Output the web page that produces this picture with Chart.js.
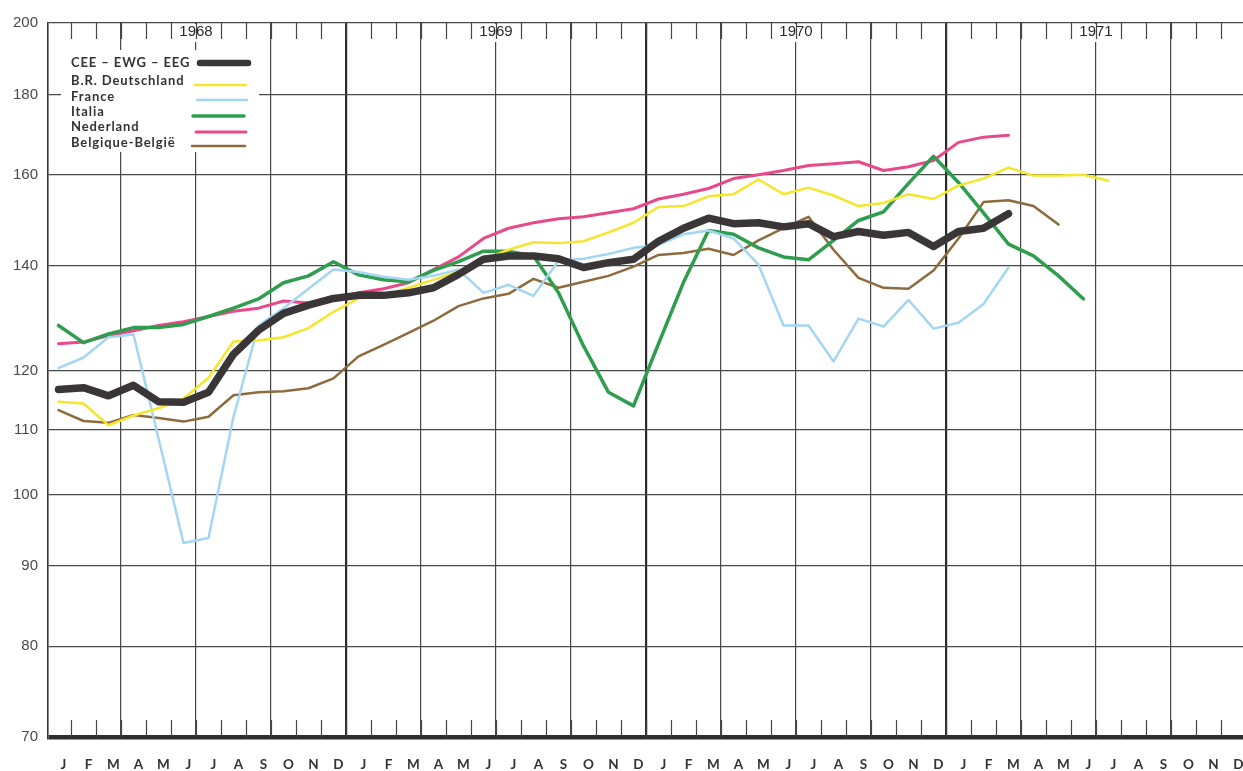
<!DOCTYPE html>
<html>
<head>
<meta charset="utf-8">
<script src="https://cdn.jsdelivr.net/npm/chart.js@4/dist/chart.umd.min.js"></script>
<style>
  html, body { margin: 0; padding: 0; background: #fff; overflow: hidden; }
</style>
</head>
<body>
<canvas id="indexChart" width="1243" height="771"></canvas>
<script>
// months Jan 1968 .. Dec 1971
var months = ['J', 'F', 'M', 'A', 'M', 'J', 'J', 'A', 'S', 'O', 'N', 'D'];
var years = ['1968', '1969', '1970', '1971'];
var yTicks = [70, 80, 90, 100, 110, 120, 140, 160, 180, 200];

var seriesNames = ['CEE \u2013 EWG \u2013 EEG', 'B.R. Deutschland', 'France', 'Italia', 'Nederland', 'Belgique-Belgi\u00eb'];

var cee = [116.7, 117.0, 115.6, 117.4, 114.6, 114.5, 116.2, 122.9, 127.3, 130.5, 132.1, 133.4,
           134.0, 134.0, 134.5, 135.5, 138.2, 141.3, 142.0, 142.0, 141.4, 139.6, 140.6, 141.3,
           145.1, 147.9, 150.1, 148.9, 149.1, 148.2, 148.9, 146.1, 147.2, 146.4, 147.0, 144.0,
           147.2, 147.9, 151.1];
var deutschland = [114.6, 114.3, 110.7, 112.3, 113.5, 115.1, 118.7, 125.2, 125.4, 126.0, 127.7, 130.8,
                   133.4, 134.0, 135.5, 137.1, 138.8, 141.2, 143.3, 144.9, 144.7, 145.1, 147.0, 149.1,
                   152.6, 152.8, 155.0, 155.5, 158.9, 155.5, 157.0, 155.2, 152.8, 153.5, 155.5, 154.4,
                   157.5, 159.1, 161.7, 159.8, 159.8, 160.0, 158.6];
var france = [120.4, 122.3, 126.0, 126.5, 108.6, 93.1, 93.8, 112.1, 128.2, 131.5, 135.3, 139.2,
              138.7, 137.7, 137.1, 137.9, 139.2, 134.5, 136.1, 133.9, 141.0, 141.4, 142.4, 143.7,
              144.3, 146.6, 147.4, 145.7, 140.2, 128.2, 128.2, 121.6, 129.5, 128.0, 133.1, 127.6,
              128.7, 132.3, 139.6];
var italia = [128.2, 125.0, 126.6, 127.8, 127.8, 128.4, 129.9, 131.5, 133.3, 136.5, 137.9, 140.8,
              138.1, 137.1, 136.7, 139.0, 140.8, 143.0, 143.0, 142.0, 134.5, 124.4, 116.2, 113.9,
              124.8, 136.6, 147.4, 146.6, 143.7, 141.8, 141.2, 145.3, 149.6, 151.5, 158.0, 164.4,
              158.2, 151.3, 144.5, 142.0, 137.9, 133.3];
var nederland = [124.8, 125.1, 126.3, 127.2, 128.2, 128.9, 129.9, 130.9, 131.5, 132.9, 132.5, 133.4,
                 134.5, 135.3, 136.5, 139.2, 141.8, 145.7, 147.9, 149.1, 150.0, 150.4, 151.3, 152.2,
                 154.4, 155.5, 156.8, 159.1, 160.0, 161.0, 162.2, 162.6, 163.1, 161.0, 161.9, 163.4,
                 167.8, 169.1, 169.6];
var belgique = [113.2, 111.4, 111.1, 112.4, 111.9, 111.3, 112.1, 115.7, 116.2, 116.4, 116.9, 118.6,
                122.5, 124.6, 126.8, 129.1, 131.9, 133.4, 134.3, 137.3, 135.5, 136.7, 137.9, 139.8,
                142.2, 142.6, 143.5, 142.2, 145.3, 147.9, 150.4, 143.3, 137.5, 135.5, 135.3, 139.0,
                145.7, 153.7, 154.1, 152.8, 148.7];

var colors = ['#3a3536', '#f6e62b', '#a3d6f2', '#2f9d4e', '#e8498b', '#8d6b3d'];
var widths = [7.5, 2.5, 2.5, 3.5, 3, 2.5];

var X_MIN = -0.42, X_MAX = 47.38;
var nMonths = years.length * months.length;

function pts(arr) {
    return arr.map(function (v, i) { return { x: i, y: v }; });
}

var allSeries = [cee, deutschland, france, italia, nederland, belgique];
var datasets = allSeries.map(function (arr, k) {
    return {
        label: seriesNames[k],
        data: pts(arr),
        borderColor: colors[k],
        borderWidth: widths[k],
        pointRadius: 0,
        tension: 0,
        fill: false,
        borderJoinStyle: 'round',
        borderCapStyle: 'round'
    };
});

// year labels, month ticks and legend box
var decor = {
    id: 'decor',
    beforeDatasetsDraw: function (chart) {
        var ctx = chart.ctx, xs = chart.scales.xg, area = chart.chartArea;
        ctx.save();

        years.forEach(function (yr, k) {
            var l = xs.getPixelForValue(4.5 + 12 * k), r = xs.getPixelForValue(6.5 + 12 * k);
            ctx.fillStyle = '#fff';
            ctx.fillRect(l + 1.5, area.top + 1, r - l - 3, 18);
            ctx.fillStyle = '#2a2a2a';
            ctx.font = '15px "Liberation Sans", Arial, sans-serif';
            ctx.textAlign = 'center';
            ctx.textBaseline = 'middle';
            ctx.fillText(yr, (l + r) / 2, area.top + 9);
        });

        ctx.strokeStyle = '#444';
        ctx.lineWidth = 1.2;
        for (var i = 0; i < nMonths - 1; i++) {
            var x = Math.round(xs.getPixelForValue(i + 0.5)) + 0.5;
            ctx.beginPath();
            ctx.moveTo(x, area.top);
            ctx.lineTo(x, area.top + 16);
            ctx.moveTo(x, area.bottom);
            ctx.lineTo(x, area.bottom - 17);
            ctx.stroke();
        }

        // legend
        ctx.fillStyle = '#fff';
        ctx.fillRect(area.left + 13, 50, 198, 102);
        var rows = [63, 81, 97, 112, 127, 143];
        var lineY = [63, 85, 100, 116, 132, 146];
        var lx = [[200, 248], [195, 246], [197, 247], [193, 244], [196, 246], [192, 245]];
        ctx.font = 'bold 13px Lato, sans-serif';
        if ('letterSpacing' in ctx) ctx.letterSpacing = '0.9px';
        ctx.textAlign = 'left';
        ctx.textBaseline = 'middle';
        chart.data.datasets.forEach(function (ds, k) {
            ctx.fillStyle = '#333';
            ctx.fillText(ds.label, 71, rows[k]);
            ctx.strokeStyle = ds.borderColor;
            ctx.lineWidth = k === 0 ? 6.5 : ds.borderWidth;
            ctx.lineCap = 'round';
            ctx.beginPath();
            ctx.moveTo(lx[k][0], lineY[k]);
            ctx.lineTo(lx[k][1], lineY[k]);
            ctx.stroke();
        });
        ctx.restore();
    }
};

var ctx = document.getElementById('indexChart').getContext('2d');
var indexChart = new Chart(ctx, {
    type: 'line',
    data: { datasets: datasets },
    options: {
        responsive: false,
        animation: false,
        layout: { padding: { top: 23, right: 0, bottom: 0, left: 0 } },
        plugins: {
            legend: { display: false },
            tooltip: { enabled: false }
        },
        scales: {
            x: {
                type: 'linear',
                position: 'bottom',
                min: X_MIN,
                max: X_MAX,
                bounds: 'data',
                afterBuildTicks: function (s) {
                    var t = [];
                    for (var i = 0; i < nMonths; i++) t.push({ value: i + 0.2 });
                    s.ticks = t;
                },
                afterFit: function (s) { s.height = 34; s.paddingLeft = 0; s.paddingRight = 0; },
                grid: { display: false, drawTicks: false },
                border: { display: false },
                ticks: {
                    autoSkip: false,
                    maxRotation: 0,
                    padding: 20,
                    color: '#333',
                    font: { family: 'Lato', size: 13.5, weight: 'bold' },
                    callback: function (v, i) { return months[i % 12]; }
                }
            },
            xg: {
                type: 'linear',
                position: 'bottom',
                min: X_MIN,
                max: X_MAX,
                bounds: 'data',
                afterBuildTicks: function (s) {
                    var t = [];
                    for (var q = 2.5; q < X_MAX; q += 3) t.push({ value: q });
                    s.ticks = t;
                },
                afterFit: function (s) { s.height = 0; s.paddingLeft = 0; s.paddingRight = 0; },
                ticks: { display: false },
                grid: {
                    drawTicks: false,
                    color: function (c) { return (c.tick && (c.tick.value + 0.5) % 12 === 0) ? '#2a2a2a' : '#484848'; },
                    lineWidth: function (c) { return (c.tick && (c.tick.value + 0.5) % 12 === 0) ? 2.2 : 1.2; }
                },
                border: { display: false }
            },
            y: {
                type: 'logarithmic',
                min: 70,
                max: 200,
                bounds: 'data',
                afterBuildTicks: function (s) {
                    s.ticks = yTicks.map(function (v) { return { value: v }; });
                },
                afterFit: function (s) { s.width = 48; },
                grid: {
                    drawTicks: false,
                    color: function (c) { return c.tick && c.tick.value === 70 ? '#2e2e2e' : '#484848'; },
                    lineWidth: function (c) { return c.tick && c.tick.value === 70 ? 4.5 : 1.2; }
                },
                border: { display: true, color: '#333', width: 1.6 },
                ticks: {
                    padding: 10,
                    color: '#4a4a4a',
                    font: { family: '"Liberation Sans", Arial, sans-serif', size: 15 },
                    callback: function (v) { return String(v); }
                }
            }
        }
    },
    plugins: [decor]
});
</script>
</body>
</html>
